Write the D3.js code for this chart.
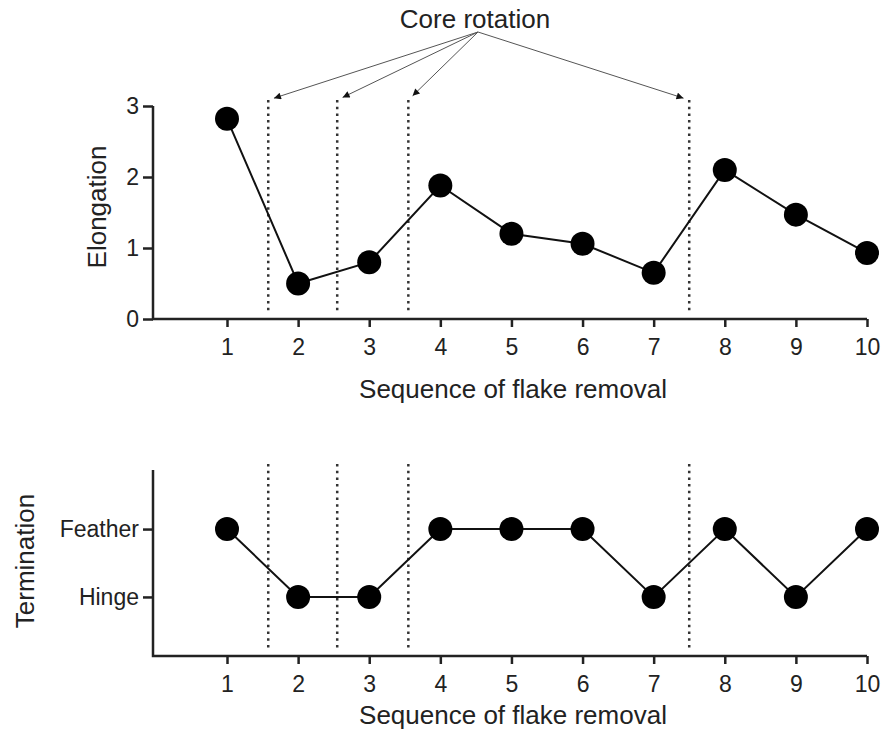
<!DOCTYPE html>
<html lang="en">
  <head>
    <meta charset="utf-8" />
    <script src="https://d3js.org/d3.v7.min.js"></script>
    <style type="text/css">
        body { margin:0; background:#fff; }
        text { font-family:"Liberation Sans", Arial, sans-serif; fill:#222; }
    </style>
    <title>Flake removal</title>
  </head>
  <body>
    <svg width="888" height="731"></svg>
  </body>
  <script type="text/javascript">

    var w = 888,
        h = 731;

    var sequence = [1, 2, 3, 4, 5, 6, 7, 8, 9, 10];
    var elongation = [2.82, 0.5, 0.8, 1.88, 1.2, 1.06, 0.65, 2.1, 1.47, 0.93];
    var termination = ['Feather', 'Hinge', 'Hinge', 'Feather', 'Feather',
                       'Feather', 'Hinge', 'Feather', 'Hinge', 'Feather'];
    var terminationLevels = ['Hinge', 'Feather'];
    var elongationTicks = [0, 1, 2, 3];
    var rotations = [1.58, 2.55, 3.55, 7.5];

    var svg = d3.select('svg')
                .attr('width', w)
                .attr('height', h);

    var axisLeft = 153;

    var xScale = d3.scaleLinear()
                   .domain([1, 10])
                   .range([227, 867]);

    // top panel
    var yTop = d3.scaleLinear()
                 .domain([0, 3])
                 .range([319, 106]);

    // bottom panel: Hinge = 1, Feather = 2
    var yBot = d3.scaleLinear()
                 .domain([0.13, 2.87])
                 .range([656, 470]);
    function termValue(t) { return terminationLevels.indexOf(t) + 1; }

    function styleAxis(g) {
        g.select('.domain').remove();
        g.selectAll('.tick line').attr('stroke', '#222').attr('stroke-width', 2.5);
        g.selectAll('.tick text').attr('font-size', 23).attr('fill', '#222');
    }

    function drawPanel(yScale, yBottom, yTopPx, values, yTicks, yFormat, yTitle, yTitleX, yTitleY, xTitleY) {
        // axes lines
        svg.append('path')
           .attr('d', 'M' + axisLeft + ',' + yTopPx + 'V' + yBottom + 'H' + xScale(10))
           .attr('fill', 'none')
           .attr('stroke', '#222')
           .attr('stroke-width', 2.5);

        var xa = svg.append('g')
           .attr('transform', 'translate(0,' + yBottom + ')')
           .call(d3.axisBottom(xScale).tickValues(sequence).tickSize(8).tickPadding(12));
        styleAxis(xa);

        var ya = svg.append('g')
           .attr('transform', 'translate(' + axisLeft + ',0)')
           .call(d3.axisLeft(yScale).tickValues(yTicks).tickSize(10).tickPadding(4).tickFormat(yFormat));
        styleAxis(ya);

        // core rotation dotted lines
        svg.selectAll(null)
           .data(rotations)
           .enter()
           .append('line')
           .attr('x1', function(d) { return xScale(d); })
           .attr('x2', function(d) { return xScale(d); })
           .attr('y1', yTopPx - 6)
           .attr('y2', yBottom - 6)
           .attr('stroke', '#333')
           .attr('stroke-width', 2.5)
           .attr('stroke-dasharray', '2.5,4.2');

        var line = d3.line()
                     .x(function(d, i) { return xScale(sequence[i]); })
                     .y(function(d) { return yScale(d); });

        svg.append('path')
           .datum(values)
           .attr('d', line)
           .attr('fill', 'none')
           .attr('stroke', '#111')
           .attr('stroke-width', 2);

        svg.selectAll(null)
           .data(values)
           .enter()
           .append('circle')
           .attr('cx', function(d, i) { return xScale(sequence[i]); })
           .attr('cy', function(d) { return yScale(d); })
           .attr('r', 12)
           .attr('fill', '#000');

        svg.append('text')
           .attr('x', (axisLeft + xScale(10)) / 2 + 3)
           .attr('y', xTitleY)
           .attr('text-anchor', 'middle')
           .attr('font-size', 26)
           .text('Sequence of flake removal');

        svg.append('text')
           .attr('transform', 'translate(' + yTitleX + ',' + yTitleY + ') rotate(-90)')
           .attr('text-anchor', 'middle')
           .attr('font-size', 26)
           .text(yTitle);
    }

    drawPanel(yTop, 319, 106, elongation, elongationTicks, d3.format('d'),
              'Elongation', 106, 207, 398);
    drawPanel(yBot, 656, 470, termination.map(termValue), [1, 2],
              function(d) { return terminationLevels[d - 1]; },
              'Termination', 34, 561, 724);

    // Core rotation annotation
    var src = [478, 32];
    svg.append('text')
       .attr('x', 475)
       .attr('y', 28)
       .attr('text-anchor', 'middle')
       .attr('font-size', 26)
       .text('Core rotation');

    svg.append('defs').append('marker')
       .attr('id', 'arrow')
       .attr('viewBox', '0 0 10 10')
       .attr('refX', 10)
       .attr('refY', 5)
       .attr('markerWidth', 9)
       .attr('markerHeight', 7)
       .attr('markerUnits', 'userSpaceOnUse')
       .attr('orient', 'auto')
       .append('path')
       .attr('d', 'M0,0L10,5L0,10Z')
       .attr('fill', '#111');

    svg.selectAll(null)
       .data(rotations)
       .enter()
       .append('line')
       .attr('x1', src[0])
       .attr('y1', src[1])
       .attr('x2', function(d) {
           var tx = xScale(d), ty = 100;
           var dx = src[0] - tx, dy = src[1] - ty, l = Math.sqrt(dx * dx + dy * dy);
           return tx + dx / l * 6;
       })
       .attr('y2', function(d) {
           var tx = xScale(d), ty = 100;
           var dx = src[0] - tx, dy = src[1] - ty, l = Math.sqrt(dx * dx + dy * dy);
           return ty + dy / l * 6;
       })
       .attr('stroke', '#555')
       .attr('stroke-width', 1)
       .attr('marker-end', 'url(#arrow)');
    </script>
</html>
